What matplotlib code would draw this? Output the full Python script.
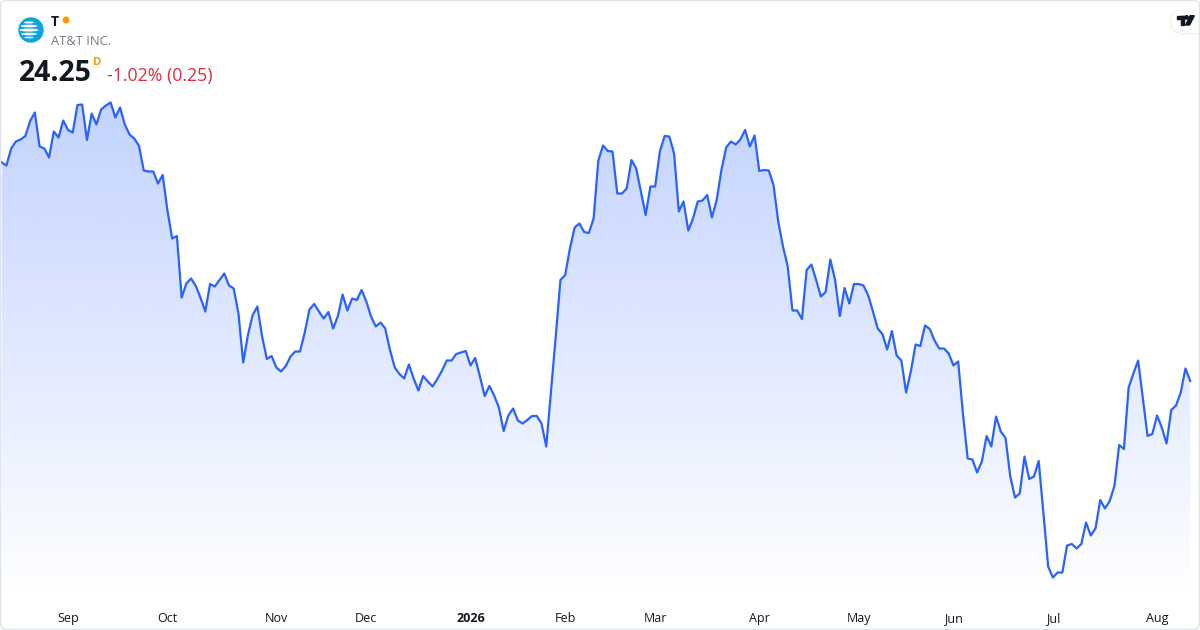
import numpy as np
import pandas as pd
import matplotlib
matplotlib.use("Agg")
import matplotlib.pyplot as plt
from matplotlib.patches import Circle, FancyBboxPatch, Polygon, Rectangle, Ellipse
from matplotlib.transforms import Affine2D, blended_transform_factory

# --- data -------------------------------------------------------------------
ticker = "T"
company = "AT&T INC."
interval = "D"

# NYSE holidays inside the window (x axis is a trading-day index)
holidays = ["2025-09-01", "2025-11-27", "2025-12-25", "2026-01-01", "2026-01-19",
            "2026-02-16", "2026-04-03", "2026-05-25", "2026-06-19", "2026-07-03"]
start_date, end_date = "2025-08-12", "2026-08-12"

close = [
    28.62, 28.56, 28.90, 29.04, 29.08, 29.15, 29.45, 29.62, 28.94, 28.90,
    28.72, 29.24, 29.12, 29.46, 29.27, 29.22, 29.77, 29.78, 29.07, 29.60,
    29.38, 29.68, 29.76, 29.82, 29.52, 29.72, 29.38, 29.18, 29.10, 28.95,
    28.46, 28.44, 28.44, 28.20, 28.37, 27.66, 27.10, 27.15, 25.92, 26.20,
    26.30, 26.15, 25.91, 25.64, 26.19, 26.14, 26.27, 26.40, 26.16, 26.10,
    25.60, 24.62, 25.17, 25.57, 25.74, 25.14, 24.69, 24.75, 24.52, 24.44,
    24.55, 24.74, 24.84, 24.84, 25.22, 25.68, 25.79, 25.64, 25.50, 25.63,
    25.30, 25.55, 25.98, 25.66, 25.90, 25.87, 26.07, 25.84, 25.54, 25.34,
    25.42, 25.30, 24.87, 24.52, 24.39, 24.30, 24.58, 24.30, 24.06, 24.35,
    24.24, 24.14, 24.29, 24.46, 24.66, 24.66, 24.79, 24.82, 24.85, 24.56,
    24.71, 24.34, 23.95, 24.15, 23.96, 23.72, 23.25, 23.56, 23.70, 23.46,
    23.40, 23.47, 23.55, 23.55, 23.40, 22.94, 24.03, 25.13, 26.27, 26.37,
    26.90, 27.32, 27.40, 27.23, 27.21, 27.50, 28.66, 28.96, 28.85, 28.84,
    28.00, 28.00, 28.10, 28.67, 28.50, 28.04, 27.57, 28.14, 28.14, 28.84,
    29.15, 29.14, 28.80, 27.64, 27.84, 27.26, 27.50, 27.84, 27.86, 27.97,
    27.52, 27.87, 28.47, 28.92, 29.04, 28.98, 29.08, 29.27, 28.94, 29.16,
    28.45, 28.47, 28.46, 28.17, 27.44, 26.94, 26.54, 25.66, 25.66, 25.49,
    26.47, 26.58, 26.27, 25.94, 26.03, 26.68, 26.27, 25.55, 26.11, 25.80,
    26.19, 26.19, 26.16, 25.96, 25.64, 25.30, 25.19, 24.88, 25.25, 24.76,
    24.66, 24.02, 24.44, 24.98, 24.95, 25.36, 25.29, 25.06, 24.90, 24.90,
    24.80, 24.56, 24.64, 23.60, 22.70, 22.68, 22.42, 22.64, 23.15, 22.94,
    23.54, 23.24, 23.11, 22.34, 21.92, 22.00, 22.74, 22.29, 22.34, 22.65,
    21.61, 20.54, 20.32, 20.42, 20.42, 20.96, 20.99, 20.90, 20.99, 21.42,
    21.16, 21.30, 21.87, 21.70, 21.85, 22.15, 22.97, 22.89, 24.12, 24.40,
    24.66, 23.91, 23.15, 23.19, 23.56, 23.32, 23.00, 23.67, 23.76, 24.02,
    24.50, 24.25,
]

dates = pd.bdate_range(start_date, end_date, freq="C", holidays=holidays)
close = np.array(close[:len(dates)])
x = np.arange(len(close))

# first trading day of each month -> tick; January shows the year in bold
ticks = []
for i in range(1, len(dates)):
    if dates[i].month != dates[i - 1].month:
        if dates[i].month == 1:
            ticks.append((i, str(dates[i].year), True))
        else:
            ticks.append((i, dates[i].strftime("%b"), False))

last, prev = close[-1], close[-2]
chg = last - prev
pct = chg / prev * 100

# --- figure -----------------------------------------------------------------
plt.rcParams["font.family"] = ["Open Sans", "DejaVu Sans"]
W, H = 1200, 630
fig = plt.figure(figsize=(12, 6.3), dpi=100)
fig.patch.set_facecolor("white")
P = Affine2D().scale(1, -1).translate(0, H)   # image pixels (y down) -> display


def fx(px_x, px_y):
    return px_x / W, 1 - px_y / H


ax = fig.add_axes([0, 30 / H, 1, 1 - 30 / H])
xlim = (-0.36, 253.07)
ylim = (19.87, 31.87)

grad = np.zeros((256, 1, 4))
grad[..., 0], grad[..., 1], grad[..., 2] = 41 / 255, 98 / 255, 1.0
grad[..., 3] = np.linspace(0.0, 0.28, 256)[:, None]
im = ax.imshow(grad, aspect="auto", origin="lower", zorder=1,
               extent=[xlim[0], xlim[1], ylim[0], close.max()])
area = ax.fill_between(x, close, ylim[0], color="none", lw=0)
im.set_clip_path(area.get_paths()[0], transform=ax.transData)
ax.plot(x, close, color="#2962ff", lw=1.6, zorder=3, solid_joinstyle="round")
ax.set_xlim(*xlim)
ax.set_ylim(*ylim)
ax.axis("off")

# month labels
tr = blended_transform_factory(ax.transData, fig.transFigure)
for i, lab, bold in ticks:
    ax.text(i, 1 - 622 / H, lab, transform=tr, ha="center", va="baseline",
            fontsize=9, color="#131722", fontweight="bold" if bold else "normal")

# header: AT&T globe
logo = Circle((31, 30), 12, color="#0ba4df", transform=P)
fig.add_artist(logo)
for cy, w, h in [(22.5, 10, 2.0), (26, 17, 2.6), (30, 19, 3.0), (34, 16, 2.6), (37.5, 9, 1.8)]:
    band = Ellipse((29, cy), w, h, fc="white", ec="none", transform=P)
    band.set_clip_path(logo)
    fig.add_artist(band)

fig.text(*fx(51, 26), ticker, fontsize=10, fontweight="bold", color="#131722")
fig.add_artist(Circle((66, 20), 2.8, color="#ff9800", transform=P))
fig.text(*fx(51, 45), company, fontsize=9.3, color="#787b86")
fig.text(*fx(19, 81), f"{last:.2f}", fontsize=20.4, fontweight="bold", color="#131722")
fig.text(*fx(93, 65), interval, fontsize=8.2, fontweight="bold", color="#ff9800")
fig.text(*fx(107, 81), f"{pct:.2f}% ({abs(chg):.2f})", fontsize=12.8, color="#dc2d3f")

# TradingView badge
fig.add_artist(FancyBboxPatch((1170, 10), 45, 24, boxstyle="round,pad=0,rounding_size=12",
                              fc="#000000", ec="none", alpha=0.07, transform=P))
fig.add_artist(FancyBboxPatch((1171, 10), 45, 23, boxstyle="round,pad=0,rounding_size=11.5",
                              fc="white", ec="none", transform=P))
tv = "#131722"
fig.add_artist(Rectangle((1177.3, 15.7), 6.7, 3.3, color=tv, transform=P))
fig.add_artist(Rectangle((1180.7, 15.7), 3.3, 9.3, color=tv, transform=P))
fig.add_artist(Circle((1186.6, 17.4), 1.7, color=tv, transform=P))
fig.add_artist(Polygon([(1185.6, 25), (1189.6, 25), (1194.3, 15.7), (1190.3, 15.7)],
                       color=tv, transform=P))

# outer frame
fig.add_artist(FancyBboxPatch((0.5, 0.5), W - 1, H - 1, boxstyle="round,pad=0,rounding_size=6",
                              fc="none", ec="#e0e3eb", lw=1, transform=P))

fig.savefig("out.png", dpi=100, facecolor="white")
